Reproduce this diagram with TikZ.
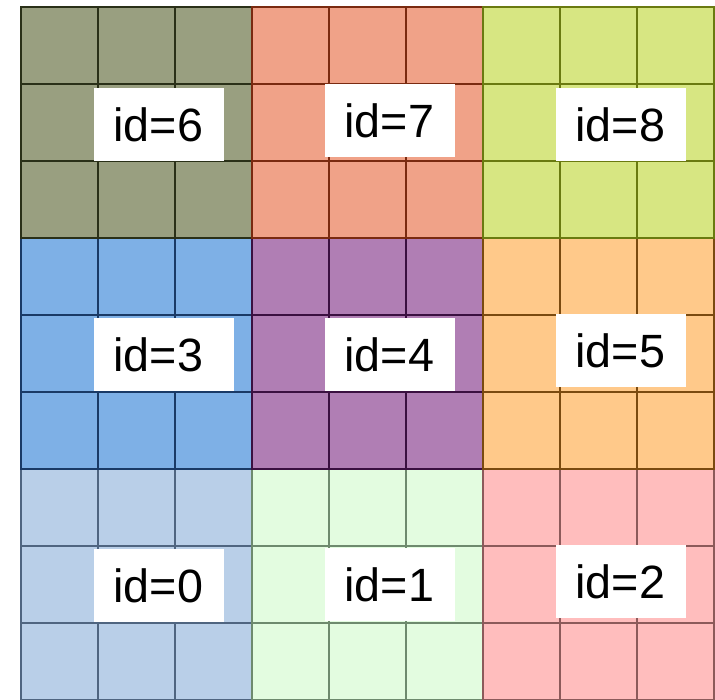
\documentclass[tikz,border=0pt]{standalone}
\usepackage{fontspec}
\setmainfont{Liberation Sans}
\usepackage{tikz}

\definecolor{fz}{HTML}{B9CFE8}\definecolor{lz}{HTML}{4F6580}
\definecolor{fa}{HTML}{E3FCE0}\definecolor{la}{HTML}{6E8A6E}
\definecolor{fb}{HTML}{FFBDBD}\definecolor{lb}{HTML}{8C5A5A}
\definecolor{fc}{HTML}{7EB0E6}\definecolor{lc}{HTML}{1A3A66}
\definecolor{fd}{HTML}{B07EB4}\definecolor{ld}{HTML}{3A1040}
\definecolor{fe}{HTML}{FFC98A}\definecolor{le}{HTML}{7A4A10}
\definecolor{ff}{HTML}{999F80}\definecolor{lf}{HTML}{2A3018}
\definecolor{fg}{HTML}{F0A288}\definecolor{lg}{HTML}{7A2A10}
\definecolor{fh}{HTML}{D7E682}\definecolor{lh}{HTML}{6A7A10}

\begin{document}
\begin{tikzpicture}[x=2cm, y=2cm, line width=0.8pt,
   lbl/.style={rectangle, fill=white, anchor=west, minimum height=54pt,
     inner xsep=14.8pt, inner ysep=0pt, text width=66.5pt, align=left,
     font=\fontsize{34.5}{40}\selectfont}]
  \useasboundingbox (-0.273,0) rectangle (9.013,9.091);
  % blocks of 3x3 cells
  \foreach \c/\r/\f/\l in {0/0/fz/lz, 1/0/fa/la, 2/0/fb/lb,
                           0/1/fc/lc, 1/1/fd/ld, 2/1/fe/le,
                           0/2/ff/lf, 1/2/fg/lg, 2/2/fh/lh} {
    \draw[\l, fill=\f] (3*\c,3*\r) rectangle ++(3,3);
    \draw[\l, step=1] (3*\c,3*\r) grid ++(3,3);
  }
  % block ids
  \node[lbl] (id0) at (0.935,1.487) {id=0};
  \node[lbl] (id1) at (3.935,1.494) {id=1};
  \node[lbl] (id2) at (6.935,1.539) {id=2};
  \node[lbl, text width=73.9pt] (id3) at (0.935,4.481) {id=3};
  \node[lbl] (id4) at (3.935,4.481) {id=4};
  \node[lbl] (id5) at (6.935,4.539) {id=5};
  \node[lbl] (id6) at (0.935,7.474) {id=6};
  \node[lbl] (id7) at (3.935,7.526) {id=7};
  \node[lbl] (id8) at (6.935,7.474) {id=8};
\end{tikzpicture}
\end{document}
